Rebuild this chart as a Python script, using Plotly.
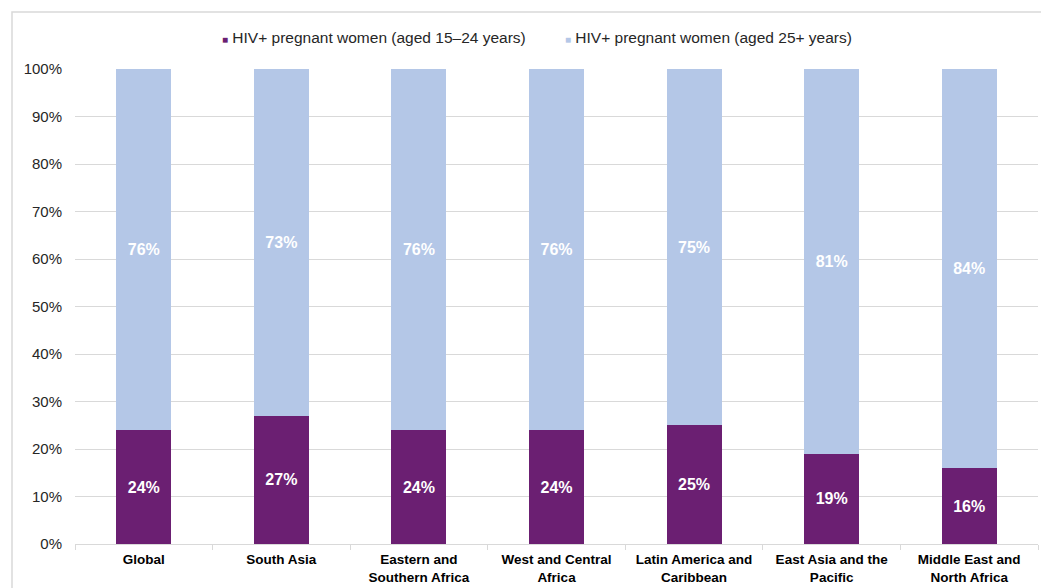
import plotly.graph_objects as go

# Regions and share of HIV+ pregnant women by age group (%)
regions = [
    "Global",
    "South Asia",
    "Eastern and<br>Southern Africa",
    "West and Central<br>Africa",
    "Latin America and<br>Caribbean",
    "East Asia and the<br>Pacific",
    "Middle East and<br>North Africa",
]
aged_15_24 = [24, 27, 24, 24, 25, 19, 16]
aged_25_plus = [76, 73, 76, 76, 75, 81, 84]

name_young = "HIV+ pregnant women (aged 15\u201324 years)"
name_older = "HIV+ pregnant women (aged 25+ years)"

DARK = "#6B1F72"
LIGHT = "#B4C7E7"
GRID = "#D9D9D9"
FONT = "Liberation Sans, Arial, sans-serif"

# Plot area geometry (pixels) used to place paper-referenced items
PLOT_L, PLOT_R, PLOT_T, PLOT_B = 75, 1038, 69, 544
PW, PH = PLOT_R - PLOT_L, PLOT_B - PLOT_T


def px_x(x):
    return (x - PLOT_L) / PW


def px_y(y):
    return (PLOT_B - y) / PH


fig = go.Figure()
for name, vals, color in [(name_young, aged_15_24, DARK), (name_older, aged_25_plus, LIGHT)]:
    fig.add_trace(go.Bar(
        x=regions, y=vals, name=name,
        marker=dict(color=color, line=dict(width=0)),
        text=[f"{v}%" for v in vals],
        textposition="inside", insidetextanchor="middle",
        textfont=dict(color="white", size=16, family=FONT, weight="bold"),
        hoverinfo="skip", showlegend=False,
    ))

fig.update_layout(
    barmode="stack",
    bargap=0.6,
    width=1041, height=588,
    margin=dict(l=PLOT_L, r=1041 - PLOT_R, t=PLOT_T, b=588 - PLOT_B),
    paper_bgcolor="white", plot_bgcolor="white",
    font=dict(family=FONT, color="#262626"),
    showlegend=False,
)

fig.update_xaxes(
    tickfont=dict(size=13.5, family=FONT, color="#000000", weight="bold"),
    showline=True, linecolor=GRID, linewidth=1,
    ticks="outside", tickson="boundaries", ticklen=5, tickcolor=GRID,
    ticklabelstandoff=3,
    showgrid=False,
)
fig.update_yaxes(
    range=[0, 100], dtick=10, ticksuffix="%",
    tickfont=dict(size=15, family=FONT, color="#262626"),
    showgrid=True, gridcolor=GRID, gridwidth=1,
    zeroline=False, showline=False, ticks="",
    ticklabelstandoff=12,
)

# Legend drawn as text with small coloured square markers
legend_items = [(name_young, DARK, 220), (name_older, LIGHT, 563)]
for label, color, left in legend_items:
    fig.add_annotation(
        xref="paper", yref="paper", x=px_x(left), y=px_y(37),
        xanchor="left", yanchor="middle", showarrow=False,
        text=(f"<span style='color:{color};font-size:10px'>\u25A0</span>"
              f" {label}"),
        font=dict(size=15.5, family=FONT, color="#262626"),
    )

# Outer chart frame
fig.add_shape(
    type="rect", xref="paper", yref="paper",
    x0=px_x(12), x1=1.05, y0=-0.3, y1=px_y(12),
    line=dict(color=GRID, width=1.5), fillcolor="rgba(0,0,0,0)",
    layer="below",
)

fig.write_html("out.html")
